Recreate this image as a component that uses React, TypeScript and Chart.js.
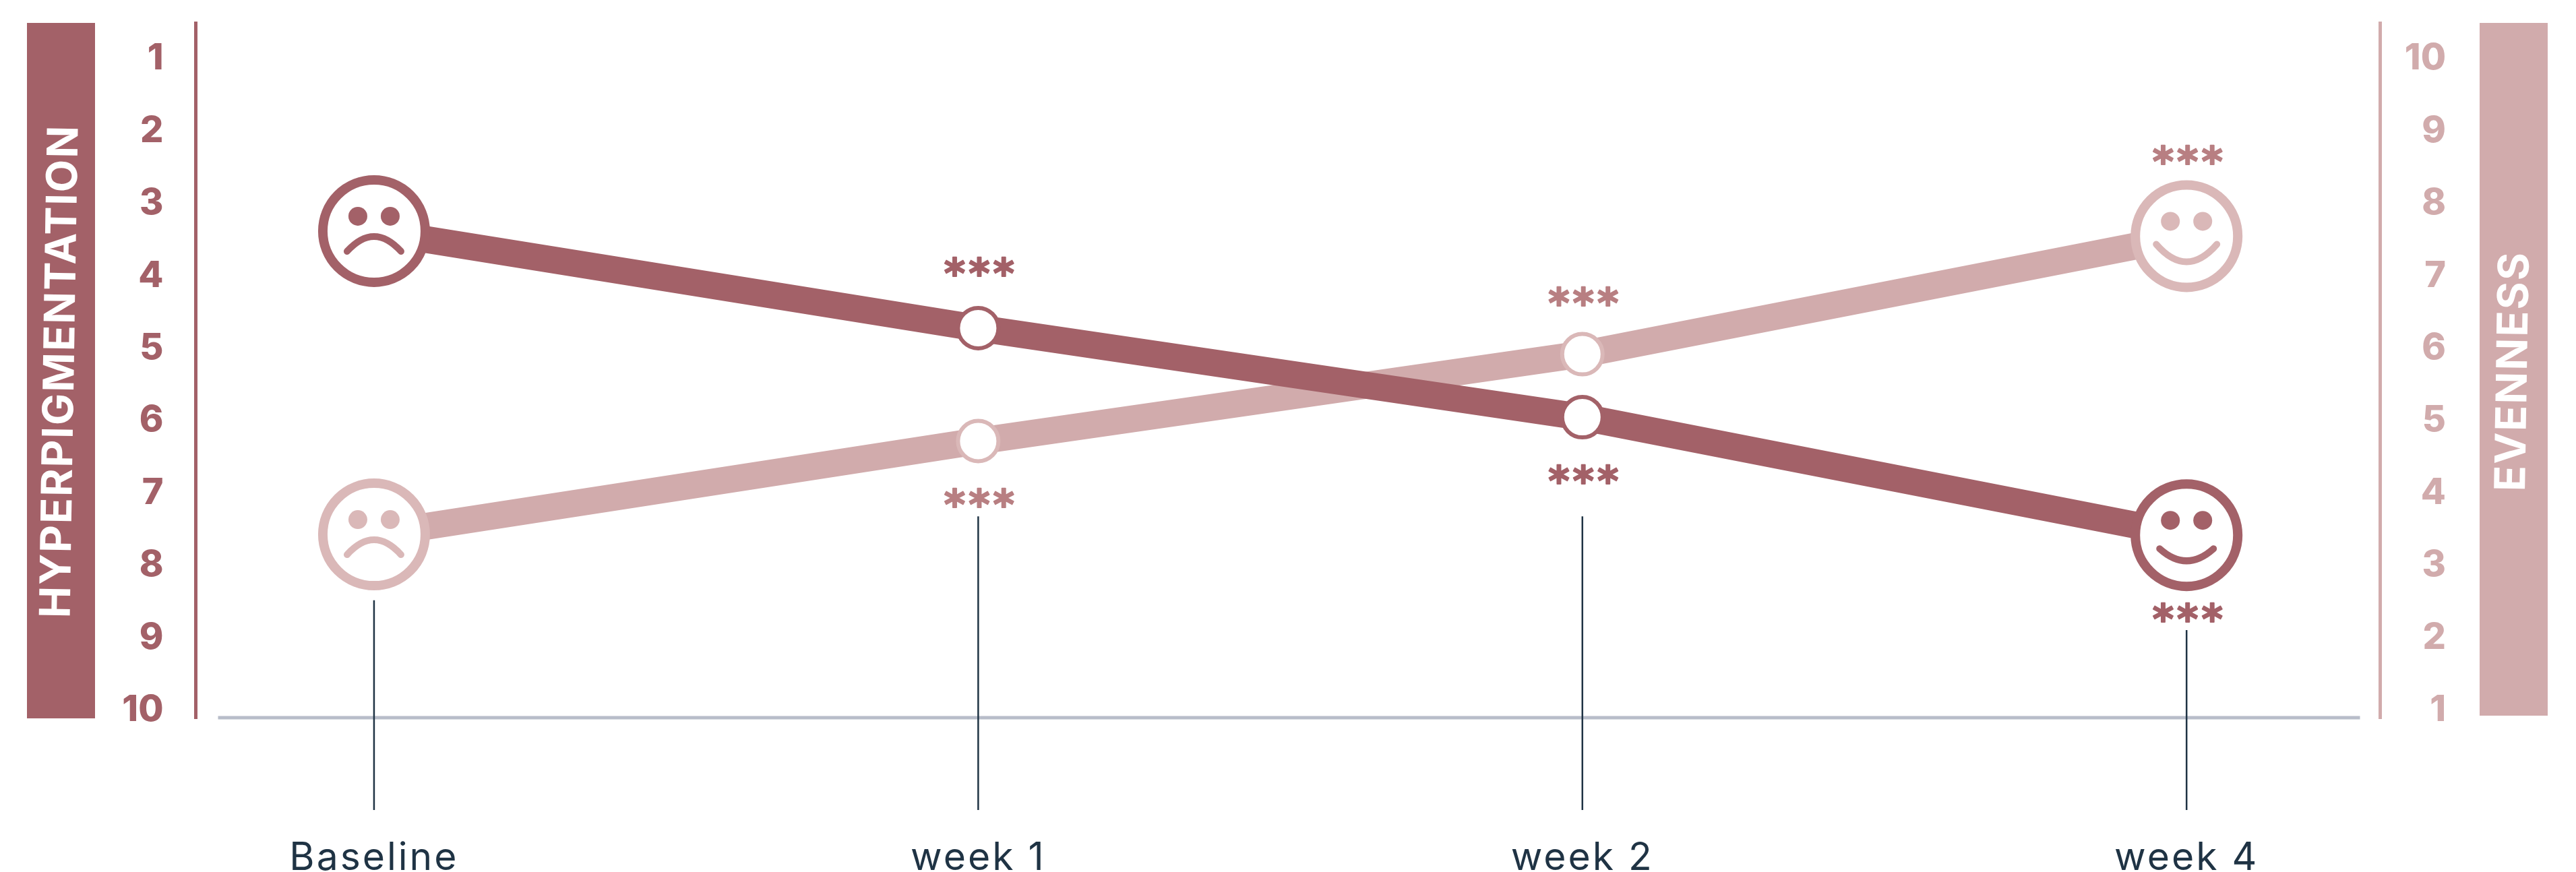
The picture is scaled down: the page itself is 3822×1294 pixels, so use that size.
import React, { useEffect, useRef } from "react";
import { Chart, registerables } from "chart.js";

Chart.register(...registerables);

const categories = ["Baseline", "week 1", "week 2", "week 4"];
const hyperpigmentation = [3.41, 4.75, 5.98, 7.61];
const evenness = [3.4, 4.69, 5.89, 7.52];
const leftTicks = [1, 2, 3, 4, 5, 6, 7, 8, 9, 10];
const rightTicks = [1, 2, 3, 4, 5, 6, 7, 8, 9, 10];
const leftTitle = "HYPERPIGMENTATION";
const rightTitle = "EVENNESS";
const significance = "***";
// y position (left-axis units) of the star marks, per category; null = none
const starsDark = [null, 3.9, 6.77, 8.67];
const starsLight = [null, 7.09, 4.31, 2.35];
// y value (left-axis units) where each connector line starts
const connectorTops = [8.51, 7.35, 7.35, 8.92];

const DARK = "#a36168";
const LIGHT = "#d1abac";
const RING_LIGHT = "#dab8b8";
const STAR_LIGHT = "#b87f82";
const INK = "#1f3344";
const BASE = "#b8bdc9";

function drawFace(ctx: any, x: number, y: number, color: string, mood: string) {
  ctx.save();
  ctx.translate(x, y);
  ctx.beginPath();
  ctx.arc(0, 0, 76, 0, Math.PI * 2);
  ctx.fillStyle = "#fff";
  ctx.fill();
  ctx.lineWidth = 14;
  ctx.strokeStyle = color;
  ctx.stroke();
  ctx.fillStyle = color;
  for (const dx of [-24, 24]) {
    ctx.beginPath();
    ctx.ellipse(dx, -22, 14, 14, 0, 0, Math.PI * 2);
    ctx.fill();
  }
  ctx.beginPath();
  ctx.lineCap = "round";
  ctx.lineWidth = 10;
  if (mood === "frown") {
    ctx.moveTo(-40, 30);
    ctx.quadraticCurveTo(0, -14, 40, 30);
  } else if (mood === "smile") {
    ctx.moveTo(-40, 20);
    ctx.quadraticCurveTo(0, 56, 40, 20);
  } else {
    ctx.moveTo(-45, 12);
    ctx.quadraticCurveTo(0, 64, 45, 12);
  }
  ctx.stroke();
  ctx.restore();
}

const decor = {
  id: "decor",
  beforeDatasetsDraw(chart: any) {
    const { ctx, chartArea, scales } = chart;
    const { x, y } = scales;
    ctx.save();
    ctx.fillStyle = BASE;
    ctx.fillRect(chartArea.left + 33, chartArea.bottom - 3.5, chartArea.width - 63, 5);
    ctx.strokeStyle = INK;
    ctx.lineWidth = 2.5;
    connectorTops.forEach((v, i) => {
      const px = x.getPixelForValue(i);
      ctx.beginPath();
      ctx.moveTo(px, y.getPixelForValue(v));
      ctx.lineTo(px, chartArea.bottom + 136);
      ctx.stroke();
    });
    ctx.restore();
  },
  afterDatasetsDraw(chart: any) {
    const { ctx, chartArea, scales } = chart;
    const { x, y } = scales;
    const dark = chart.getDatasetMeta(0).data;
    const light = chart.getDatasetMeta(1).data;
    drawFace(ctx, light[0].x, light[0].y, RING_LIGHT, "frown");
    drawFace(ctx, light[3].x, light[3].y, RING_LIGHT, "smileWide");
    drawFace(ctx, dark[0].x, dark[0].y, DARK, "frown");
    drawFace(ctx, dark[3].x, dark[3].y, DARK, "smile");

    ctx.save();
    ctx.font = "700 60px 'DejaVu Sans'";
    (ctx as any).letterSpacing = "5px";
    ctx.textAlign = "center";
    ctx.textBaseline = "alphabetic";
    ctx.lineWidth = 2;
    ctx.lineJoin = "round";
    const m = ctx.measureText(significance);
    const mid = (m.actualBoundingBoxAscent - m.actualBoundingBoxDescent) / 2;
    const put = (arr: (number | null)[], col: string) =>
      arr.forEach((v, i) => {
        if (v === null) return;
        const px = x.getPixelForValue(i) + 4;
        const py = y.getPixelForValue(v) + mid;
        ctx.fillStyle = col;
        ctx.strokeStyle = col;
        ctx.fillText(significance, px, py);
        ctx.strokeText(significance, px, py);
      });
    put(starsDark, DARK);
    put(starsLight, STAR_LIGHT);
    ctx.restore();

    // side title bands
    const band = (bx: number, bw: number, col: string, text: string, tx: number, bh: number) => {
      ctx.save();
      ctx.fillStyle = col;
      ctx.fillRect(bx, chartArea.top, bw, bh);
      ctx.translate(tx, 551);
      ctx.rotate(-Math.PI / 2 + 0.0165);
      ctx.fillStyle = "#fff";
      ctx.font = "700 63px Inter";
      (ctx as any).letterSpacing = "2px";
      ctx.textAlign = "center";
      ctx.textBaseline = "middle";
      ctx.fillText(text, 0, 0);
      ctx.restore();
    };
    band(40, 101, DARK, leftTitle, 90.5, 1032);
    band(3679, 101, LIGHT, rightTitle, 3730, 1028);
  },
};

const noPad = (s: any) => {
  s.paddingTop = 0;
  s.paddingBottom = 0;
  s.paddingLeft = 0;
  s.paddingRight = 0;
};

export default function App() {
  const ref = useRef<HTMLCanvasElement>(null);
  useEffect(() => {
    const chart = new Chart(ref.current as any, {
      type: "line",
      data: {
        datasets: [
          {
            label: "Hyperpigmentation",
            yAxisID: "y",
            data: hyperpigmentation.map((v, i) => ({ x: i, y: v })),
            borderColor: DARK,
            borderWidth: 40,
            tension: 0,
            pointRadius: [0, 30, 30, 0],
            pointBorderWidth: 6,
            pointBackgroundColor: "#fff",
            pointBorderColor: DARK,
          },
          {
            label: "Evenness",
            yAxisID: "y1",
            data: evenness.map((v, i) => ({ x: i, y: v })),
            borderColor: LIGHT,
            borderWidth: 40,
            tension: 0,
            pointRadius: [0, 30, 30, 0],
            pointBorderWidth: 6,
            pointBackgroundColor: "#fff",
            pointBorderColor: RING_LIGHT,
          },
        ],
      },
      options: {
        responsive: false,
        animation: false,
        devicePixelRatio: 1,
        layout: { padding: { top: 34, left: 0, right: 193, bottom: 0 } },
        plugins: { legend: { display: false }, tooltip: { enabled: false } },
        scales: {
          x: {
            type: "linear",
            min: -0.295,
            max: 3.3205,
            grid: { display: false, drawTicks: false },
            border: { display: false },
            afterBuildTicks: (s: any) => {
              s.ticks = categories.map((_, i) => ({ value: i }));
            },
            afterFit: (s: any) => {
              s.height = 228;
              noPad(s);
              if (!s._spaced) {
                s._spaced = true;
                const orig = s.drawLabels;
                s.drawLabels = function (area: any) {
                  this.ctx.letterSpacing = "3px";
                  orig.call(this, area);
                  this.ctx.letterSpacing = "0px";
                };
              }
            },
            ticks: {
              autoSkip: false,
              maxRotation: 0,
              padding: 174,
              color: INK,
              font: { family: "Inter", size: 57, weight: 400 },
              callback: (v: any) => categories[v],
            },
          },
          y: {
            type: "linear",
            position: "left",
            reverse: true,
            min: 0.5346,
            max: 10.14,
            grid: { display: false, drawTicks: false },
            border: { display: true, color: DARK, width: 5 },
            afterBuildTicks: (s: any) => {
              s.ticks = leftTicks.map((value) => ({ value }));
            },
            afterFit: (s: any) => {
              s.width = 290.5;
              noPad(s);
            },
            ticks: {
              autoSkip: false,
              padding: 48,
              labelOffset: 3,
              color: DARK,
              font: { family: "Inter", size: 54, weight: 800 },
              callback: (v: any) => String(v),
            },
          },
          y1: {
            type: "linear",
            position: "right",
            min: 0.86,
            max: 10.465,
            grid: { display: false, drawTicks: false },
            border: { display: true, color: LIGHT, width: 5 },
            afterBuildTicks: (s: any) => {
              s.ticks = rightTicks.map((value) => ({ value }));
            },
            afterFit: (s: any) => {
              s.width = 97.5;
              noPad(s);
            },
            ticks: {
              autoSkip: false,
              padding: 38,
              labelOffset: 3,
              crossAlign: "far",
              color: LIGHT,
              font: { family: "Inter", size: 54, weight: 800 },
              callback: (v: any) => String(v),
            },
          },
        },
      },
      plugins: [decor],
    } as any);
    return () => chart.destroy();
  }, []);
  return (
    <div style={{ position: "fixed", left: 0, top: 0, width: 3822, height: 1294, background: "#fff" }}>
      <canvas ref={ref} width={3822} height={1294} style={{ display: "block", width: 3822, height: 1294 }} />
    </div>
  );
}
